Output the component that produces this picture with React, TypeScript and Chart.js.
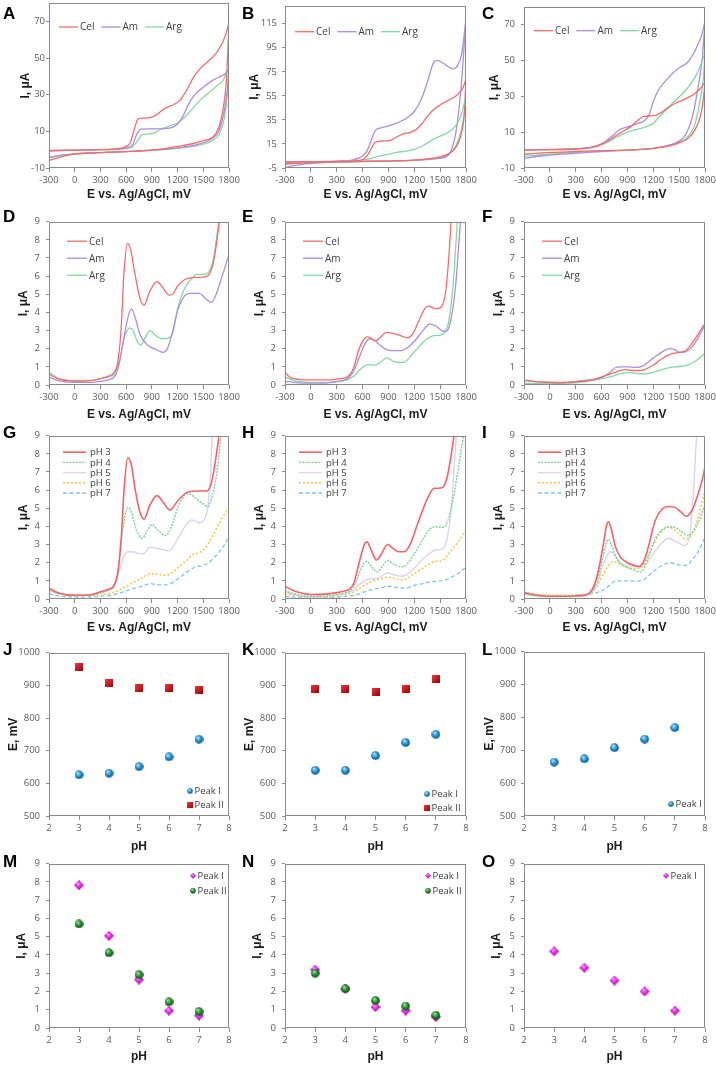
import React, { useEffect, useRef } from 'react';
import { Chart, registerables } from 'chart.js';

Chart.register(...registerables);

type Pt = [number, number];

// ---------------- tick values ----------------
const E_TICKS = [-300, 0, 300, 600, 900, 1200, 1500, 1800];
const A_I_TICKS = [-10, 10, 30, 50, 70];
const B_I_TICKS = [-5, 15, 35, 55, 75, 95, 115];
const C_I_TICKS = [-10, 10, 30, 50, 70];
const LOW_I_TICKS = [0, 1, 2, 3, 4, 5, 6, 7, 8, 9];
const PH_TICKS = [2, 3, 4, 5, 6, 7, 8];
const EP_TICKS = [500, 600, 700, 800, 900, 1000];

const PH_LABELS = ['pH 3', 'pH 4', 'pH 5', 'pH 6', 'pH 7'];
const PH = [3, 4, 5, 6, 7];

// ---------------- A ----------------
const A_Cel_fwd: Pt[] = [[-300,-0.6],[0,-0.3],[300,0],[500,0.5],[600,1.8],[650,4],[700,12],[740,16.8],[800,17.2],[880,17.5],[950,19],[1050,22.5],[1150,24.5],[1230,27],[1300,32],[1380,39],[1450,43.5],[1550,48],[1650,52.5],[1720,58],[1770,64],[1800,69.5]];
const A_Cel_rev: Pt[] = [[-300,-6],[-200,-4.5],[-100,-3.2],[0,-2.3],[200,-1.7],[400,-1.3],[600,-1],[800,-0.6],[1000,0.3],[1200,1.8],[1400,3.5],[1500,5],[1600,6.5],[1680,12],[1730,22],[1770,38],[1800,69.5]];
const A_Am_fwd: Pt[] = [[-300,-0.6],[0,-0.3],[300,0],[500,0.3],[600,1],[680,3],[720,8],[770,11.2],[850,11.3],[950,11.3],[1050,11.5],[1130,12],[1200,14],[1260,18],[1320,24],[1400,30],[1500,34],[1600,37.5],[1700,40],[1760,41.5],[1800,44]];
const A_Am_rev: Pt[] = [[-300,-4.2],[-200,-3.3],[0,-2.3],[300,-1.6],[600,-1.1],[900,-0.3],[1200,1],[1400,2.5],[1500,3.8],[1600,6],[1680,10],[1740,20],[1780,32],[1800,44]];
const A_Arg_fwd: Pt[] = [[-300,-0.4],[0,-0.2],[300,0],[500,0.3],[650,1],[720,4],[780,8],[850,8.5],[920,9],[1000,11],[1100,12.8],[1200,14.5],[1280,17.5],[1350,21],[1450,26.5],[1550,30.5],[1650,34.5],[1740,38.5],[1800,47.5]];
const A_Arg_rev: Pt[] = [[-300,-4.5],[-200,-3.5],[0,-2.4],[300,-1.6],[600,-1.1],[900,-0.4],[1200,0.7],[1400,2],[1500,3],[1600,4.8],[1680,8],[1740,16],[1780,30],[1800,47.5]];

// ---------------- B ----------------
const B_Cel_fwd: Pt[] = [[-300,0],[0,0.2],[300,0.5],[500,1],[600,2],[650,5],[700,11],[750,16.5],[850,17.5],[920,18],[1000,21],[1080,23.5],[1150,24.5],[1230,27.5],[1300,33],[1400,42],[1500,47.5],[1600,51.5],[1700,56],[1760,61],[1800,69]];
const B_Cel_rev: Pt[] = [[-300,-1.8],[-100,-0.8],[200,0],[600,0.5],[900,0.8],[1200,1.5],[1400,3],[1500,4.5],[1600,7],[1680,12],[1740,22],[1780,40],[1800,69]];
const B_Am_fwd: Pt[] = [[-300,0],[0,0.3],[300,0.7],[500,2],[600,5],[650,9],[700,18],[750,26.5],[820,28.5],[900,30],[1000,32.5],[1100,36],[1200,42],[1280,52],[1350,66],[1420,82],[1460,84.5],[1520,83],[1600,79],[1650,77.5],[1700,80],[1750,90],[1800,119]];
const B_Am_rev: Pt[] = [[-300,-4.5],[-200,-3],[0,-1.2],[300,0],[600,0.5],[900,0.8],[1200,1.5],[1400,2.5],[1500,3],[1600,6],[1650,14],[1700,33],[1750,68],[1800,119]];
const B_Arg_fwd: Pt[] = [[-300,0.2],[0,0.3],[300,0.5],[500,1],[600,1.5],[700,3],[800,5],[900,6.5],[1000,8],[1100,9],[1200,10.5],[1300,13.5],[1400,18],[1500,21.5],[1600,25],[1680,30],[1740,38],[1800,55]];
const B_Arg_rev: Pt[] = [[-300,-1.2],[0,-0.5],[300,0],[600,0.4],[900,0.7],[1200,1.3],[1400,2.5],[1500,3.8],[1600,6.5],[1680,13],[1740,25],[1780,40],[1800,55]];

// ---------------- C ----------------
const C_Cel_fwd: Pt[] = [[-300,0],[0,0.2],[300,0.6],[450,1.2],[550,2.2],[650,4.5],[750,7.5],[850,10.5],[950,13.5],[1050,17.8],[1100,18.8],[1200,19.2],[1280,20.5],[1350,23],[1450,26],[1550,28],[1650,30.5],[1730,33.5],[1800,38]];
const C_Cel_rev: Pt[] = [[-300,-2.3],[0,-1.3],[300,-0.8],[600,-0.3],[900,0],[1200,1],[1400,2.5],[1500,4],[1600,6.5],[1680,11],[1740,18],[1780,28],[1800,38]];
const C_Am_fwd: Pt[] = [[-300,0],[0,0.2],[300,0.6],[450,1.3],[550,2.5],[650,5],[750,9],[800,11.2],[900,13],[1000,14.5],[1100,16.5],[1150,19.5],[1200,27],[1260,33.5],[1350,39],[1450,44],[1520,46.5],[1600,49],[1700,57],[1760,64],[1800,72]];
const C_Am_rev: Pt[] = [[-300,-4.6],[-100,-3.3],[0,-2.8],[300,-1.8],[600,-0.8],[900,0],[1200,1],[1400,3],[1500,5],[1580,9],[1650,18],[1720,35],[1770,52],[1800,72]];
const C_Arg_fwd: Pt[] = [[-300,0.2],[0,0.4],[300,0.7],[450,1.3],[550,2.2],[650,3.8],[750,6.5],[850,9],[950,10.8],[1050,12],[1150,13.8],[1200,15],[1280,19],[1350,22.5],[1450,27.5],[1550,32],[1650,38],[1720,44],[1800,54]];
const C_Arg_rev: Pt[] = [[-300,-3.5],[0,-2.2],[300,-1.3],[600,-0.5],[900,0],[1200,0.9],[1400,2.8],[1500,4.5],[1600,7.5],[1680,14],[1740,27],[1780,40],[1800,54]];

// ---------------- D ----------------
const D_Cel: Pt[] = [[-300,0.6],[-200,0.35],[-100,0.25],[0,0.2],[200,0.25],[300,0.35],[400,0.5],[450,0.65],[500,1.2],[540,3],[575,6.2],[615,7.8],[650,7.5],[700,6.2],[760,4.8],[810,4.4],[870,5.1],[960,5.7],[1030,5.35],[1100,4.95],[1150,5.05],[1200,5.45],[1280,5.8],[1350,5.9],[1500,5.95],[1560,6.05],[1620,6.8],[1660,8],[1710,9.8]];
const D_Am: Pt[] = [[-300,0.45],[-200,0.25],[0,0.15],[200,0.15],[300,0.2],[400,0.3],[470,0.5],[520,1.2],[570,2.5],[620,3.7],[660,4.2],[700,3.8],[760,2.8],[850,2.2],[950,1.95],[1030,1.8],[1080,2],[1140,2.9],[1200,4.1],[1280,4.9],[1350,5.05],[1450,5.05],[1520,4.8],[1590,4.55],[1650,5],[1720,6],[1800,7.2]];
const D_Arg: Pt[] = [[-300,0.7],[-200,0.4],[0,0.25],[200,0.25],[300,0.35],[400,0.45],[460,0.6],[520,1.3],[580,2.6],[640,3.15],[680,3],[730,2.4],[770,2.2],[820,2.6],[880,3],[950,2.7],[1020,2.55],[1100,2.6],[1150,3],[1200,4.2],[1280,5.3],[1350,5.8],[1430,6.1],[1500,6.1],[1560,6.2],[1620,7],[1680,9],[1720,10.5]];

// ---------------- E ----------------
const E_Cel: Pt[] = [[-300,0.7],[-250,0.45],[-200,0.35],[0,0.28],[200,0.28],[300,0.33],[400,0.4],[450,0.55],[500,1],[560,2],[620,2.55],[660,2.65],[720,2.5],[760,2.45],[800,2.6],[880,2.9],[950,2.85],[1050,2.7],[1120,2.6],[1180,2.8],[1250,3.5],[1320,4.2],[1360,4.35],[1420,4.25],[1460,4.2],[1520,4.35],[1560,5],[1600,7],[1630,9.3]];
const E_Am: Pt[] = [[-300,0.2],[-200,0.15],[0,0.1],[200,0.12],[300,0.18],[400,0.3],[450,0.45],[500,0.8],[560,1.5],[620,2.2],[680,2.55],[740,2.45],[800,2.2],[880,1.95],[950,1.9],[1050,1.9],[1120,2.05],[1200,2.4],[1300,3],[1380,3.35],[1450,3.25],[1520,3.0],[1570,2.95],[1620,3.5],[1680,5.5],[1720,8],[1750,10]];
const E_Arg: Pt[] = [[-300,0.45],[-200,0.25],[0,0.15],[200,0.15],[300,0.2],[400,0.25],[450,0.35],[500,0.5],[560,0.8],[620,1.05],[670,1.12],[750,1.1],[820,1.3],[880,1.5],[940,1.35],[1000,1.25],[1080,1.25],[1150,1.55],[1250,2.1],[1350,2.55],[1420,2.72],[1500,2.75],[1550,2.9],[1600,3.5],[1650,5.5],[1700,9],[1720,10]];

// ---------------- F ----------------
const F_Cel: Pt[] = [[-300,0.28],[-200,0.2],[0,0.15],[100,0.12],[200,0.15],[300,0.18],[400,0.22],[500,0.3],[600,0.45],[700,0.6],[760,0.7],[820,0.8],[880,0.85],[950,0.8],[1050,0.8],[1100,0.85],[1200,1.1],[1300,1.45],[1400,1.7],[1500,1.8],[1560,1.85],[1650,2.3],[1720,2.8],[1800,3.4]];
const F_Am: Pt[] = [[-300,0.25],[-200,0.2],[0,0.15],[100,0.15],[200,0.15],[300,0.2],[400,0.25],[500,0.3],[600,0.4],[700,0.7],[760,0.95],[820,1.0],[900,1.0],[1000,0.97],[1080,1.05],[1150,1.3],[1250,1.65],[1350,1.95],[1390,2.0],[1450,1.95],[1500,1.8],[1550,1.8],[1650,2.1],[1720,2.6],[1800,3.3]];
const F_Arg: Pt[] = [[-300,0.1],[-200,0.08],[0,0.07],[200,0.1],[300,0.12],[400,0.18],[500,0.25],[600,0.35],[700,0.45],[800,0.6],[900,0.68],[950,0.68],[1050,0.62],[1120,0.62],[1200,0.7],[1300,0.85],[1400,0.97],[1500,1.02],[1600,1.1],[1700,1.35],[1800,1.75]];

// ---------------- G ----------------
const G_pH3: Pt[] = [[-300,0.6],[-200,0.35],[0,0.2],[200,0.25],[300,0.4],[400,0.55],[450,0.7],[500,1.4],[540,3.2],[580,6.3],[620,7.8],[660,7.4],[710,5.9],[760,4.8],[810,4.4],[870,5.1],[960,5.7],[1030,5.35],[1110,4.9],[1200,5.4],[1300,5.85],[1420,5.95],[1540,5.95],[1600,6.5],[1660,8.2],[1700,9.6]];
const G_pH4: Pt[] = [[-300,0.55],[-200,0.35],[0,0.2],[200,0.22],[300,0.35],[400,0.5],[450,0.65],[500,1.3],[560,3.8],[620,5.05],[660,4.8],[720,3.8],[790,3.35],[850,3.8],[900,4.1],[970,3.8],[1060,3.5],[1120,3.9],[1200,5],[1280,5.7],[1330,5.8],[1400,5.6],[1480,5.3],[1550,5.1],[1600,5.6],[1660,7],[1720,9.6]];
const G_pH5: Pt[] = [[-300,0.5],[-200,0.3],[0,0.2],[200,0.2],[300,0.35],[400,0.5],[450,0.6],[500,1.2],[560,2.2],[620,2.6],[680,2.6],[750,2.5],[800,2.5],[880,2.85],[950,2.8],[1050,2.7],[1100,2.65],[1200,3.3],[1300,4.1],[1370,4.35],[1450,4.2],[1500,4.3],[1550,5],[1580,6.5],[1610,9.6]];
const G_pH6: Pt[] = [[-300,0.45],[-200,0.3],[0,0.2],[200,0.2],[300,0.25],[400,0.3],[500,0.45],[600,0.7],[700,0.95],[800,1.2],[880,1.4],[950,1.38],[1050,1.3],[1120,1.4],[1200,1.7],[1300,2.1],[1380,2.45],[1450,2.55],[1520,2.8],[1600,3.4],[1700,4.3],[1800,5.05]];
const G_pH7: Pt[] = [[-300,0.3],[-200,0.18],[0,0.1],[200,0.12],[300,0.15],[400,0.2],[500,0.3],[600,0.45],[700,0.6],[800,0.72],[880,0.85],[950,0.8],[1050,0.78],[1120,0.85],[1200,1.1],[1300,1.45],[1400,1.75],[1500,1.85],[1560,2.0],[1650,2.4],[1720,2.8],[1800,3.4]];

// ---------------- H ----------------
const H_pH3: Pt[] = [[-300,0.7],[-200,0.45],[0,0.25],[200,0.28],[300,0.35],[400,0.45],[450,0.55],[500,0.9],[560,2],[620,3.0],[650,3.15],[700,2.7],[760,2.15],[820,2.5],[890,3.0],[950,2.8],[1020,2.6],[1080,2.6],[1150,3.0],[1250,4.3],[1350,5.5],[1430,6.1],[1480,6.1],[1530,6.15],[1580,6.7],[1630,8],[1680,9.6]];
const H_pH4: Pt[] = [[-300,0.45],[-200,0.3],[0,0.15],[200,0.18],[300,0.25],[400,0.35],[450,0.45],[500,0.7],[560,1.4],[620,2.0],[650,2.08],[700,1.8],[770,1.5],[830,1.8],[890,2.12],[950,1.95],[1050,1.78],[1100,1.85],[1200,2.5],[1300,3.3],[1380,3.85],[1450,3.98],[1520,3.95],[1570,4.1],[1650,5.5],[1720,7.5],[1780,9.3]];
const H_pH5: Pt[] = [[-300,0.4],[-200,0.25],[0,0.12],[200,0.15],[300,0.2],[400,0.3],[500,0.5],[560,0.8],[620,1.0],[680,1.1],[750,1.1],[820,1.25],[890,1.45],[950,1.35],[1050,1.25],[1100,1.3],[1200,1.7],[1300,2.2],[1400,2.6],[1450,2.7],[1530,2.75],[1580,3.3],[1630,5],[1680,8.5],[1700,9.6]];
const H_pH6: Pt[] = [[-300,0.3],[-200,0.2],[0,0.1],[200,0.12],[300,0.18],[400,0.25],[500,0.4],[600,0.7],[700,0.95],[800,1.1],[890,1.2],[950,1.15],[1050,1.05],[1120,1.15],[1200,1.4],[1300,1.7],[1400,2.0],[1450,2.08],[1520,2.1],[1600,2.5],[1700,3.1],[1800,3.8]];
const H_pH7: Pt[] = [[-300,0.15],[-200,0.1],[0,0.05],[200,0.08],[300,0.1],[400,0.15],[500,0.2],[600,0.35],[700,0.5],[800,0.6],[900,0.7],[950,0.68],[1050,0.6],[1120,0.62],[1200,0.75],[1300,0.85],[1400,0.95],[1500,1.0],[1560,1.05],[1650,1.25],[1720,1.45],[1800,1.75]];

// ---------------- I ----------------
const I_pH3: Pt[] = [[-300,0.35],[-200,0.25],[0,0.15],[200,0.15],[300,0.18],[400,0.2],[450,0.3],[500,0.6],[560,1.5],[620,3],[660,4.1],[680,4.25],[710,3.9],[760,2.9],[820,2.3],[900,2.0],[980,1.85],[1040,1.8],[1100,2.2],[1150,3],[1220,4.3],[1300,4.95],[1380,5.1],[1450,5.05],[1520,4.8],[1580,4.55],[1650,4.9],[1720,5.8],[1780,6.8],[1800,7.3]];
const I_pH4: Pt[] = [[-300,0.3],[-200,0.2],[0,0.12],[200,0.12],[300,0.15],[400,0.2],[450,0.28],[500,0.5],[560,1.2],[620,2.4],[680,3.3],[720,2.9],[780,2.2],[850,1.85],[950,1.65],[1040,1.5],[1100,1.75],[1150,2.4],[1220,3.3],[1300,3.8],[1380,3.98],[1450,3.95],[1520,3.75],[1600,3.5],[1660,3.7],[1720,4.2],[1800,5.2]];
const I_pH5: Pt[] = [[-300,0.35],[-200,0.22],[0,0.15],[200,0.15],[300,0.18],[400,0.22],[500,0.45],[560,1.0],[620,1.9],[700,2.6],[740,2.5],[800,2.1],[880,1.85],[980,1.8],[1050,1.75],[1120,1.95],[1200,2.5],[1300,3.1],[1380,3.35],[1450,3.2],[1530,3.0],[1570,2.95],[1620,3.5],[1660,5.5],[1690,8],[1710,9.6]];
const I_pH6: Pt[] = [[-300,0.4],[-200,0.28],[0,0.2],[200,0.2],[300,0.22],[400,0.25],[500,0.4],[560,0.8],[620,1.4],[700,1.95],[730,2.05],[780,2.0],[850,1.85],[950,1.7],[1050,1.7],[1100,2.0],[1180,2.8],[1280,3.6],[1370,3.95],[1450,3.8],[1520,3.5],[1580,3.3],[1650,3.6],[1720,4.5],[1800,6.0]];
const I_pH7: Pt[] = [[-300,0.3],[-200,0.2],[0,0.15],[200,0.15],[300,0.2],[400,0.25],[500,0.3],[600,0.45],[680,0.7],[740,0.95],[800,1.0],[900,1.0],[1000,0.98],[1080,1.05],[1150,1.3],[1250,1.7],[1350,1.95],[1390,2.0],[1450,1.95],[1520,1.85],[1580,1.85],[1650,2.15],[1720,2.6],[1800,3.4]];

// ---------------- J–O (peak data vs pH) ----------------
const J_E_peakI = [626, 631, 651, 681, 735];
const J_E_peakII = [956, 906, 891, 891, 886];
const K_E_peakI = [640, 640, 685, 725, 750];
const K_E_peakII = [890, 890, 880, 890, 920];
const L_E_peakI = [664, 674, 708, 734, 769];
const M_I_peakI = [7.82, 5.05, 2.65, 0.95, 0.68];
const M_I_peakII = [5.7, 4.12, 2.92, 1.43, 0.9];
const N_I_peakI = [3.2, 2.15, 1.15, 0.95, 0.6];
const N_I_peakII = [3.0, 2.15, 1.5, 1.2, 0.7];
const O_I_peakI = [4.2, 3.3, 2.6, 2.0, 0.95];

// ---------------- styling / layout ----------------
const RED = '#f36c6c';
const PURPLE = '#ad8de0';
const GREEN = '#84d8a2';
const PH_COLORS = ['#f3636a', '#78d397', '#dcd2ee', '#f4c443', '#7ec5e4'];
const PH_DASH = [[], [2, 1.2], [], [2, 2], [4, 2.5]];
const PH_WIDTH = [1.6, 1.4, 1.4, 1.5, 1.3];

const AXIS_COLOR = '#8a8a8a';
const TICK_COLOR = '#5a5a5a';
const TITLE_COLOR = '#1c1c1c';
const TICK_FONT = '"Open Sans", "DejaVu Sans", sans-serif';
const TITLE_FONT = '"Liberation Sans", Arial, sans-serif';

const COL_L = [49, 285, 524];
const COL_W = [180, 181, 181];
const ROW_T = [3, 218, 432, 649, 860];
const ROW_H = [165, 167, 167, 167, 168];
const X_TITLE_PAD = [8, 5, 6, 4, 6];
// per-panel: padding of the y title from the canvas edge, gap between y tick labels and the axis
const Y_TITLE_PAD: Record<string, number> = { A: 18, B: 11.5, C: 12.5, D: 16, E: 16, F: 16, G: 16, H: 16, I: 16, J: 6, K: 6, L: 7, M: 14.5, N: 14.5, O: 14.5 };
const Y_TICK_GAP: Record<string, number> = { A: 4, B: 8, C: 9, D: 9, E: 9, F: 9, G: 9, H: 9, I: 9, J: 9, K: 9, L: 8, M: 9, N: 9, O: 9 };
const LETTER_X = [3, 242, 482];
const LETTER_BASE = [19, 222, 438, 655, 867];
const AXIS_W = 49, AXIS_H = 42, PAD_T = 8, PAD_R = 14;

// ---------------- marker sprites ----------------
function sphere(light: string, base: string, dark: string, d: number) {
  const c = document.createElement('canvas');
  c.width = d; c.height = d;
  const g = c.getContext('2d')!;
  const r = d / 2;
  const grad = g.createRadialGradient(r * 0.7, r * 0.6, r * 0.1, r, r, r);
  grad.addColorStop(0, light);
  grad.addColorStop(0.55, base);
  grad.addColorStop(1, dark);
  g.fillStyle = grad;
  g.beginPath();
  g.arc(r, r, r - 0.2, 0, Math.PI * 2);
  g.fill();
  return c;
}
function squareSprite(d: number) {
  const c = document.createElement('canvas');
  c.width = d; c.height = d;
  const g = c.getContext('2d')!;
  const grad = g.createLinearGradient(0, 0, d, d);
  grad.addColorStop(0, '#ee3a3e');
  grad.addColorStop(0.6, '#c4141a');
  grad.addColorStop(1, '#7c0a0d');
  g.fillStyle = grad;
  g.fillRect(0, 0, d, d);
  return c;
}
function diamondSprite(d: number) {
  const c = document.createElement('canvas');
  c.width = d; c.height = d;
  const g = c.getContext('2d')!;
  const r = d / 2;
  const grad = g.createRadialGradient(r * 0.8, r * 0.7, 0.5, r, r, r);
  grad.addColorStop(0, '#ff8cff');
  grad.addColorStop(0.5, '#e023e0');
  grad.addColorStop(1, '#a010a0');
  g.fillStyle = grad;
  g.beginPath();
  g.moveTo(r, 0);
  g.lineTo(d, r);
  g.lineTo(r, d);
  g.lineTo(0, r);
  g.closePath();
  g.fill();
  return c;
}
const BLUE_BALL = sphere('#a8e4ff', '#1b93d4', '#0a4c7c', 9);
const GREEN_BALL = sphere('#9be39b', '#1f8d2b', '#0a4410', 9);
const RED_SQUARE = squareSprite(8);
const MAGENTA = diamondSprite(10);

// ---------------- plugins ----------------
const framePlugin = {
  id: 'frame',
  afterDraw(chart: any) {
    const { ctx, chartArea: a } = chart;
    ctx.save();
    ctx.strokeStyle = AXIS_COLOR;
    ctx.lineWidth = 1;
    const l = Math.round(a.left) + 0.5, t = Math.round(a.top) + 0.5;
    const r = Math.round(a.right) - 0.5, b = Math.round(a.bottom) - 0.5;
    ctx.strokeRect(l, t, r - l, b - t);
    ctx.restore();
  },
};

const legendPlugin = {
  id: 'panelLegend',
  afterDraw(chart: any, _args: any, o: any) {
    if (!o || !o.mode) return;
    const { ctx, chartArea: a } = chart;
    const items = chart.data.datasets.filter((d: any) => !d.hideInLegend);
    ctx.save();
    ctx.font = `${o.fontSize}px ${TICK_FONT}`;
    ctx.textBaseline = 'middle';
    ctx.fillStyle = '#404040';
    let x = (o.fromRight ? a.right : a.left) + o.x;
    let y = (o.fromBottom ? a.bottom : a.top) + o.y;
    for (const d of items) {
      let tx: number;
      if (o.mode === 'line') {
        ctx.strokeStyle = d.borderColor;
        ctx.lineWidth = d.borderWidth;
        ctx.setLineDash(d.borderDash || []);
        ctx.beginPath();
        ctx.moveTo(x, y);
        ctx.lineTo(x + o.lineLen, y);
        ctx.stroke();
        ctx.setLineDash([]);
        tx = x + o.lineLen + o.textGap;
      } else {
        const s = d.legendSize || 6;
        ctx.drawImage(d.pointStyle, x - s / 2, y - s / 2, s, s);
        tx = x + s / 2 + o.textGap;
      }
      ctx.fillText(d.label, tx, y + 0.5);
      if (o.dir === 'h') {
        x = tx + ctx.measureText(d.label).width + o.itemGap;
      } else {
        y += o.rowGap;
      }
    }
    ctx.restore();
  },
};

Chart.register(framePlugin, legendPlugin);

// ---------------- dataset builders ----------------
const cv = (label: string, pts: Pt[], color: string, extra: any = {}) => ({
  label,
  data: pts.map(([x, y]) => ({ x, y })),
  borderColor: color,
  backgroundColor: color,
  borderWidth: 1.3,
  pointRadius: 0,
  fill: false,
  cubicInterpolationMode: 'monotone',
  ...extra,
});
const phSet = (curves: Pt[][]) =>
  curves.map((pts, i) =>
    cv(PH_LABELS[i], pts, PH_COLORS[i], { borderDash: PH_DASH[i], borderWidth: PH_WIDTH[i], order: i })
  );
const dots = (label: string, ys: number[], sprite: any, legendSize: number, order: number) => ({
  label,
  data: PH.map((x, i) => ({ x, y: ys[i] })),
  showLine: false,
  pointStyle: sprite,
  pointRadius: 4,
  borderWidth: 0,
  legendSize,
  order,
});

const LEG_H = (y: number) => ({ mode: 'line', dir: 'h', x: 10, y, lineLen: 19, textGap: 2, itemGap: 7, fontSize: 10 });
const LEG_V3 = { mode: 'line', dir: 'v', x: 18, y: 19.5, lineLen: 20, textGap: 2, rowGap: 17, fontSize: 10 };
const LEG_V5 = { mode: 'line', dir: 'v', x: 14, y: 16.5, lineLen: 23, textGap: 4, rowGap: 10.2, fontSize: 9.5 };

const E_TITLE = 'E vs. Ag/AgCl, mV';
const I_TITLE = 'I, μA';

interface Spec {
  letter: string; col: number; row: number; datasets: any[];
  xMin: number; xMax: number; xTicks: number[];
  yMin: number; yMax: number; yTicks: number[];
  xTitle: string; yTitle: string; legend: any;
}

const cvSpec = (letter: string, col: number, row: number, datasets: any[], yMin: number, yMax: number, yTicks: number[], legend: any): Spec => ({
  letter, col, row, datasets, xMin: -300, xMax: 1800, xTicks: E_TICKS, yMin, yMax, yTicks, xTitle: E_TITLE, yTitle: I_TITLE, legend,
});

const loops = (fc: Pt[], fa: Pt[], fg: Pt[], rc: Pt[], ra: Pt[], rg: Pt[]) => [
  cv('Cel', fc, RED), cv('Am', fa, PURPLE), cv('Arg', fg, GREEN),
  cv('Cel', rc, RED, { hideInLegend: true }), cv('Am', ra, PURPLE, { hideInLegend: true }), cv('Arg', rg, GREEN, { hideInLegend: true }),
];
const trio = (c: Pt[], a: Pt[], g: Pt[]) => [cv('Cel', c, RED), cv('Am', a, PURPLE), cv('Arg', g, GREEN)];

const SPECS: Spec[] = [
  cvSpec('A', 0, 0, loops(A_Cel_fwd, A_Am_fwd, A_Arg_fwd, A_Cel_rev, A_Am_rev, A_Arg_rev), -10, 80, A_I_TICKS, LEG_H(24)),
  cvSpec('B', 1, 0, loops(B_Cel_fwd, B_Am_fwd, B_Arg_fwd, B_Cel_rev, B_Am_rev, B_Arg_rev), -5, 130, B_I_TICKS, LEG_H(26)),
  cvSpec('C', 2, 0, loops(C_Cel_fwd, C_Am_fwd, C_Arg_fwd, C_Cel_rev, C_Am_rev, C_Arg_rev), -10, 80, C_I_TICKS, LEG_H(24)),
  cvSpec('D', 0, 1, trio(D_Cel, D_Am, D_Arg), 0, 9, LOW_I_TICKS, LEG_V3),
  cvSpec('E', 1, 1, trio(E_Cel, E_Am, E_Arg), 0, 9, LOW_I_TICKS, LEG_V3),
  cvSpec('F', 2, 1, trio(F_Cel, F_Am, F_Arg), 0, 9, LOW_I_TICKS, LEG_V3),
  cvSpec('G', 0, 2, phSet([G_pH3, G_pH4, G_pH5, G_pH6, G_pH7]), 0, 9, LOW_I_TICKS, LEG_V5),
  cvSpec('H', 1, 2, phSet([H_pH3, H_pH4, H_pH5, H_pH6, H_pH7]), 0, 9, LOW_I_TICKS, LEG_V5),
  cvSpec('I', 2, 2, phSet([I_pH3, I_pH4, I_pH5, I_pH6, I_pH7]), 0, 9, LOW_I_TICKS, LEG_V5),
  {
    letter: 'J', col: 0, row: 3,
    datasets: [dots('Peak I', J_E_peakI, BLUE_BALL, 6, 1), dots('Peak II', J_E_peakII, RED_SQUARE, 6, 2)],
    xMin: 2, xMax: 8, xTicks: PH_TICKS, yMin: 500, yMax: 1000, yTicks: EP_TICKS, xTitle: 'pH', yTitle: 'E, mV',
    legend: { mode: 'marker', dir: 'v', x: -39, y: -25, fromRight: true, fromBottom: true, textGap: 1.5, rowGap: 14, fontSize: 9.5 },
  },
  {
    letter: 'K', col: 1, row: 3,
    datasets: [dots('Peak I', K_E_peakI, BLUE_BALL, 6, 1), dots('Peak II', K_E_peakII, RED_SQUARE, 6, 2)],
    xMin: 2, xMax: 8, xTicks: PH_TICKS, yMin: 500, yMax: 1000, yTicks: EP_TICKS, xTitle: 'pH', yTitle: 'E, mV',
    legend: { mode: 'marker', dir: 'v', x: -39, y: -22, fromRight: true, fromBottom: true, textGap: 1.5, rowGap: 14, fontSize: 9.5 },
  },
  {
    letter: 'L', col: 2, row: 3,
    datasets: [dots('Peak I', L_E_peakI, BLUE_BALL, 6, 1)],
    xMin: 2, xMax: 8, xTicks: PH_TICKS, yMin: 500, yMax: 1000, yTicks: EP_TICKS, xTitle: 'pH', yTitle: 'E, mV',
    legend: { mode: 'marker', dir: 'v', x: -34, y: -12, fromRight: true, fromBottom: true, textGap: 1.5, rowGap: 14, fontSize: 9.5 },
  },
  {
    letter: 'M', col: 0, row: 4,
    datasets: [dots('Peak I', M_I_peakI, MAGENTA, 6, 2), dots('Peak II', M_I_peakII, GREEN_BALL, 6, 1)],
    xMin: 2, xMax: 8, xTicks: PH_TICKS, yMin: 0, yMax: 9, yTicks: LOW_I_TICKS, xTitle: 'pH', yTitle: I_TITLE,
    legend: { mode: 'marker', dir: 'v', x: -36, y: 12, fromRight: true, fromBottom: false, textGap: 1.5, rowGap: 15, fontSize: 9.5 },
  },
  {
    letter: 'N', col: 1, row: 4,
    datasets: [dots('Peak I', N_I_peakI, MAGENTA, 6, 2), dots('Peak II', N_I_peakII, GREEN_BALL, 6, 1)],
    xMin: 2, xMax: 8, xTicks: PH_TICKS, yMin: 0, yMax: 9, yTicks: LOW_I_TICKS, xTitle: 'pH', yTitle: I_TITLE,
    legend: { mode: 'marker', dir: 'v', x: -38, y: 12, fromRight: true, fromBottom: false, textGap: 1.5, rowGap: 15, fontSize: 9.5 },
  },
  {
    letter: 'O', col: 2, row: 4,
    datasets: [dots('Peak I', O_I_peakI, MAGENTA, 6, 1)],
    xMin: 2, xMax: 8, xTicks: PH_TICKS, yMin: 0, yMax: 9, yTicks: LOW_I_TICKS, xTitle: 'pH', yTitle: I_TITLE,
    legend: { mode: 'marker', dir: 'v', x: -39, y: 12, fromRight: true, fromBottom: false, textGap: 1.5, rowGap: 15, fontSize: 9.5 },
  },
];

function makeConfig(s: Spec) {
  const tickFont = { family: TICK_FONT, size: 9.5 };
  const titleFont = { family: TITLE_FONT, size: 12, weight: 'bold' };
  const xGrid = { display: true, drawOnChartArea: false, drawTicks: true, tickLength: 4, color: AXIS_COLOR, lineWidth: 1 };
  const yGrid = { display: true, drawOnChartArea: false, drawTicks: true, tickLength: 3, color: AXIS_COLOR, lineWidth: 1 };
  return {
    type: 'line',
    data: { datasets: s.datasets },
    options: {
      responsive: false,
      animation: false,
      events: [],
      layout: { padding: { left: 0, top: PAD_T, right: PAD_R, bottom: 0 } },
      plugins: {
        legend: { display: false },
        tooltip: { enabled: false },
        title: { display: false },
        panelLegend: s.legend,
      },
      scales: {
        x: {
          type: 'linear', position: 'bottom', min: s.xMin, max: s.xMax,
          afterBuildTicks: (sc: any) => { sc.ticks = s.xTicks.map((v) => ({ value: v })); },
          afterFit: (sc: any) => { sc.height = AXIS_H; },
          grid: xGrid, border: { display: false },
          ticks: { color: TICK_COLOR, font: tickFont, padding: 3, maxRotation: 0, autoSkip: false, callback: (v: any) => String(v) },
          title: { display: true, text: s.xTitle, color: TITLE_COLOR, font: titleFont, padding: { top: 0, bottom: X_TITLE_PAD[s.row] } },
        },
        y: {
          type: 'linear', position: 'left', min: s.yMin, max: s.yMax,
          afterBuildTicks: (sc: any) => { sc.ticks = s.yTicks.map((v) => ({ value: v })); },
          afterFit: (sc: any) => { sc.width = AXIS_W; },
          grid: yGrid, border: { display: false },
          ticks: { color: TICK_COLOR, font: tickFont, padding: Y_TICK_GAP[s.letter] - 3, autoSkip: false, callback: (v: any) => String(v) },
          title: { display: true, text: s.yTitle, color: TITLE_COLOR, font: titleFont, padding: { top: Y_TITLE_PAD[s.letter], bottom: 0 } },
        },
      },
    },
  };
}

function Panel({ spec }: { spec: Spec }) {
  const ref = useRef<HTMLCanvasElement>(null);
  const w = AXIS_W + COL_W[spec.col] + PAD_R;
  const h = PAD_T + ROW_H[spec.row] + AXIS_H;
  useEffect(() => {
    const chart = new Chart(ref.current as HTMLCanvasElement, makeConfig(spec) as any);
    return () => chart.destroy();
  }, [spec]);
  return (
    <>
      <canvas
        ref={ref}
        width={w}
        height={h}
        style={{ position: 'absolute', left: COL_L[spec.col] - AXIS_W, top: ROW_T[spec.row] - PAD_T, width: w, height: h }}
      />
      <div
        style={{
          position: 'absolute', left: LETTER_X[spec.col], top: LETTER_BASE[spec.row] - 14,
          font: 'bold 17px "Liberation Sans", Arial, sans-serif', lineHeight: '17px', color: '#000', zIndex: 2,
        }}
      >
        {spec.letter}
      </div>
    </>
  );
}

export default function App() {
  return (
    <div style={{ position: 'absolute', left: 0, top: 0, width: 716, height: 1066, overflow: 'hidden', background: '#fff' }}>
      {SPECS.map((s) => (
        <Panel key={s.letter} spec={s} />
      ))}
    </div>
  );
}
